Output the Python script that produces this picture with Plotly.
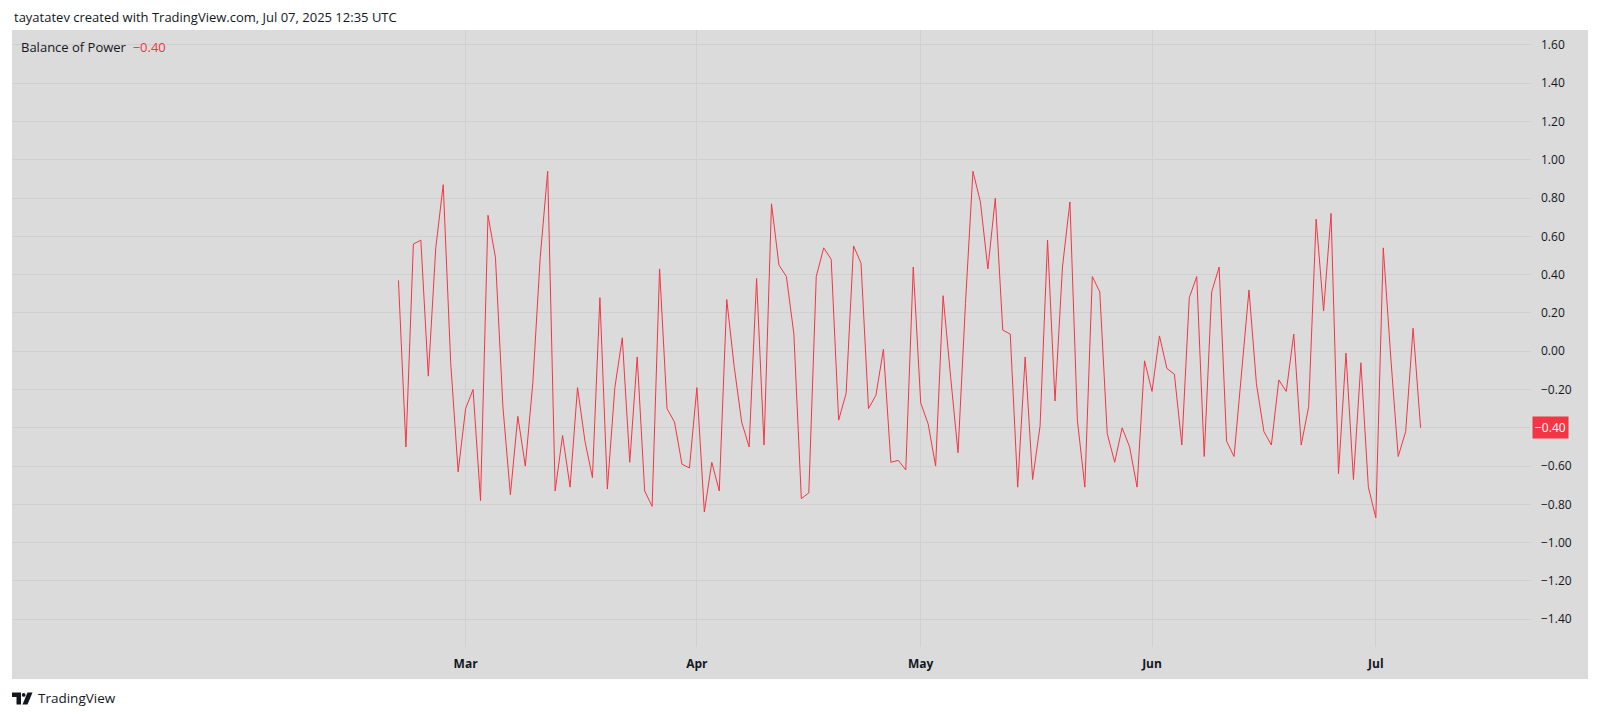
import pandas as pd
import plotly.graph_objects as go

# ---------------- data ----------------
start_date = "2025-02-20"
end_date = "2025-07-07"

feb_vals = [0.37, -0.50, 0.56, 0.58, -0.13, 0.54, 0.87, -0.06, -0.63]
mar_vals = [-0.30, -0.20, -0.78, 0.71, 0.49, -0.29, -0.75, -0.34, -0.60, -0.17,
            0.49, 0.94, -0.73, -0.44, -0.71, -0.19, -0.47, -0.66, 0.28, -0.72,
            -0.19, 0.07, -0.58, -0.03, -0.73, -0.81, 0.43, -0.30, -0.37, -0.59, -0.61]
apr_vals = [-0.19, -0.84, -0.58, -0.73, 0.27, -0.08, -0.37, -0.50, 0.38, -0.49,
            0.77, 0.45, 0.39, 0.09, -0.77, -0.74, 0.39, 0.54, 0.48, -0.36,
            -0.22, 0.55, 0.46, -0.30, -0.23, 0.01, -0.58, -0.57, -0.62, 0.44]
may_vals = [-0.27, -0.38, -0.60, 0.29, -0.13, -0.53, 0.25, 0.94, 0.78, 0.43,
            0.80, 0.11, 0.09, -0.71, -0.03, -0.67, -0.39, 0.58, -0.26, 0.44,
            0.78, -0.36, -0.71, 0.39, 0.31, -0.43, -0.58, -0.40, -0.50, -0.71, -0.05]
jun_vals = [-0.21, 0.08, -0.09, -0.12, -0.49, 0.28, 0.39, -0.55, 0.31, 0.44,
            -0.47, -0.55, -0.12, 0.32, -0.17, -0.42, -0.49, -0.15, -0.21, 0.09,
            -0.49, -0.29, 0.69, 0.21, 0.72, -0.64, -0.01, -0.67, -0.06, -0.71]
jul_vals = [-0.87, 0.54, -0.03, -0.55, -0.42, 0.12, -0.40]

month_tick_dates = ["2025-03-01", "2025-04-01", "2025-05-01", "2025-06-01", "2025-07-01"]
month_tick_labels = ["Mar", "Apr", "May", "Jun", "Jul"]
y_tick_vals = [-1.4, -1.2, -1.0, -0.8, -0.6, -0.4, -0.2, 0.0, 0.2, 0.4, 0.6, 0.8, 1.0, 1.2, 1.4, 1.6]

indicator_name = "Balance of Power"
header_text = "tayatatev created with TradingView.com, Jul 07, 2025 12:35 UTC"
footer_text = "TradingView"

bop_values = feb_vals + mar_vals + apr_vals + may_vals + jun_vals + jul_vals
dates = pd.date_range(start_date, end_date, freq="D")

# ---------------- style ----------------
W, H = 1600, 718
PL, PR, PT, PB = 12, 1531, 30, 647  # plot area in pixels
RED = "#F23645"
BG = "#DBDBDB"
GRID = "#D0D0D0"
TXT = "#131722"
FONT = "Open Sans"


def px_x(x):
    return (x - PL) / (PR - PL)


def px_y(y):
    return (PB - y) / (PB - PT)


def fmt(v):
    s = f"{abs(v):.2f}"
    return ("\u2212" + s) if v < 0 else s


last_val = bop_values[-1]

fig = go.Figure()
fig.add_trace(go.Scatter(x=dates, y=bop_values, mode="lines",
                         line=dict(color=RED, width=1), hoverinfo="skip",
                         showlegend=False))

shapes = [
    dict(type="rect", xref="paper", yref="paper", x0=px_x(12), x1=px_x(1588),
         y0=px_y(679), y1=px_y(30), fillcolor=BG, line=dict(width=0), layer="below"),
]


# TradingView logo (decorative)
def path(points):
    d = "M " + " L ".join(f"{px_x(a)},{px_y(b)}" for a, b in points) + " Z"
    return dict(type="path", xref="paper", yref="paper", path=d,
                fillcolor=TXT, line=dict(width=0))


shapes.append(path([(12, 692.5), (21, 692.5), (21, 704.5), (16.5, 704.5), (16.5, 697), (12, 697)]))
shapes.append(dict(type="circle", xref="paper", yref="paper",
                   x0=px_x(21.8), x1=px_x(25.6), y0=px_y(696.8), y1=px_y(693),
                   fillcolor=TXT, line=dict(width=0)))
shapes.append(path([(27.5, 692.5), (32.5, 692.5), (27.5, 704.5), (22.5, 704.5)]))

annotations = [
    dict(text=header_text, xref="paper", yref="paper", x=px_x(12), y=px_y(17),
         xanchor="left", yanchor="middle", showarrow=False,
         font=dict(family=FONT, size=13, color=TXT)),
    dict(text=f"{indicator_name}  <span style='color:{RED}'>{fmt(last_val)}</span>",
         xref="paper", yref="paper", x=px_x(19), y=px_y(47), xanchor="left",
         yanchor="middle", showarrow=False,
         font=dict(family=FONT, size=13, color=TXT)),
    dict(text=fmt(last_val), xref="paper", yref="y", x=px_x(1532),
         y=last_val, xanchor="left", yanchor="middle", showarrow=False,
         bgcolor=RED, borderpad=2, font=dict(family=FONT, size=12, color="white")),
    dict(text=footer_text, xref="paper", yref="paper", x=px_x(36), y=px_y(698),
         xanchor="left", yanchor="middle", showarrow=False,
         font=dict(family=FONT, size=13.5, color=TXT)),
]

# the tick label at the last value is covered by the price label in the reference
y_tick_text = ["" if abs(v - last_val) < 1e-9 else fmt(v) for v in y_tick_vals]

fig.update_layout(
    width=W, height=H,
    margin=dict(l=PL, r=W - PR, t=PT, b=H - PB, pad=0),
    paper_bgcolor="white", plot_bgcolor=BG,
    shapes=shapes, annotations=annotations,
    xaxis=dict(range=["2024-12-30 04:48", "2025-07-21 19:12"],
               tickvals=month_tick_dates, ticktext=month_tick_labels,
               showgrid=True, gridcolor=GRID, gridwidth=1, zeroline=False,
               showline=False, ticks="", ticklabelstandoff=8,
               tickfont=dict(family=FONT, size=12, color=TXT, weight="bold")),
    yaxis=dict(range=[-1.545, 1.678], side="right", tickvals=y_tick_vals,
               ticktext=y_tick_text,
               showgrid=True, gridcolor=GRID, gridwidth=1, zeroline=False,
               showline=False, ticks="", ticklabelstandoff=9,
               tickfont=dict(family=FONT, size=12, color=TXT)),
)

fig.write_html("out.html", config={"displayModeBar": False},
               post_script="document.body.style.margin='0';document.body.style.overflow='hidden';")
